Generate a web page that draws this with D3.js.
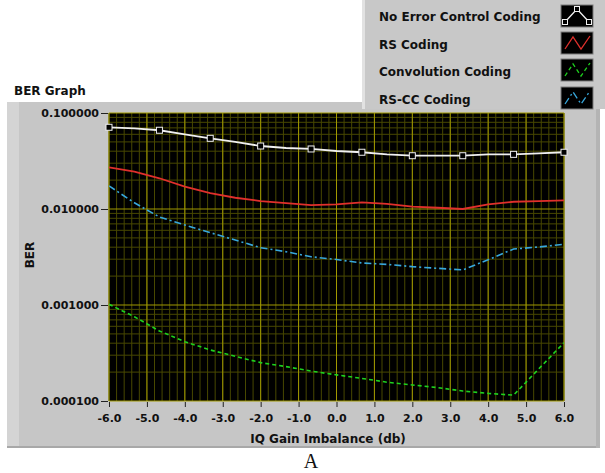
<!DOCTYPE html>
<html>
<head>
<meta charset="utf-8">
<script src="https://cdn.jsdelivr.net/npm/d3@7"></script>
<style>
  body { margin: 0; background: #fff; }
  text { font-family: "DejaVu Sans", Verdana, sans-serif; font-weight: bold; fill: #111; }
</style>
</head>
<body>
<div id="chart"></div>
<script>
// IQ gain imbalance (db)
var gain = [-6, -5.33, -4.67, -4, -3.33, -2.67, -2, -1.33, -0.67, 0, 0.67, 1.33, 2, 2.67, 3.33, 4, 4.67, 5.33, 6];
// BER per coding scheme
var noCoding = [0.0710, 0.0690, 0.0661, 0.0600, 0.0545, 0.0499, 0.0453, 0.0432, 0.0422, 0.0402, 0.0390, 0.0371, 0.0359, 0.0359, 0.0359, 0.0371, 0.0371, 0.0380, 0.0390];
var rsCoding = [0.0272, 0.0245, 0.0209, 0.0171, 0.0146, 0.0131, 0.0121, 0.0115, 0.0110, 0.0112, 0.0117, 0.0113, 0.0106, 0.0103, 0.0100, 0.0112, 0.0119, 0.0121, 0.0123];
var convCoding = [0.001016, 0.000755, 0.000536, 0.000415, 0.000340, 0.000292, 0.000251, 0.000228, 0.000205, 0.000187, 0.000172, 0.000157, 0.000147, 0.000138, 0.000127, 0.000120, 0.000115, 0.000215, 0.000405];
var rsccCoding = [0.0174, 0.0116, 0.00825, 0.00681, 0.00567, 0.00475, 0.00395, 0.00359, 0.00318, 0.00298, 0.00274, 0.00265, 0.00251, 0.00241, 0.00232, 0.00296, 0.00383, 0.00402, 0.00429];
// x positions where the white plot draws its square markers
var markerGain = [-6, -4.67, -3.33, -2, -0.67, 0.67, 2, 3.33, 4.67, 6];

var xTicks = [-6, -5, -4, -3, -2, -1, 0, 1, 2, 3, 4, 5, 6];
var yTicks = [0.0001, 0.001, 0.01, 0.1];

var series = [
  {name: "No Error Control Coding", values: noCoding, color: "#f0f0f0", dash: null, w: 1.8},
  {name: "RS Coding", values: rsCoding, color: "#e0302c", dash: null, w: 1.8},
  {name: "Convolution Coding", values: convCoding, color: "#1ed21e", dash: "4,3", w: 1.6},
  {name: "RS-CC Coding", values: rsccCoding, color: "#38a8dc", dash: "7,3,2,3", w: 1.6}
];

var W = 605, H = 473;
var plot = {left: 109, top: 113, right: 564, bottom: 401};

var svg = d3.select("#chart").append("svg")
  .attr("width", W).attr("height", H);

svg.append("rect").attr("width", W).attr("height", H).attr("fill", "#fff");

// panel
svg.append("rect").attr("x", 7).attr("y", 102).attr("width", 593).attr("height", 346).attr("fill", "#c6c6c6");
svg.append("rect").attr("x", 7).attr("y", 102).attr("width", 12).attr("height", 346).attr("fill", "#d4d4d4");
svg.append("rect").attr("x", 7).attr("y", 446).attr("width", 593).attr("height", 2).attr("fill", "#a8a8a8");
svg.append("rect").attr("x", 596).attr("y", 102).attr("width", 4).attr("height", 346).attr("fill", "#b4b4b4");

// legend box
svg.append("rect").attr("x", 362).attr("y", 0).attr("width", 243).attr("height", 109).attr("fill", "#c8c8c8");
svg.append("rect").attr("x", 362).attr("y", 0).attr("width", 3).attr("height", 109).attr("fill", "#e2e2e2");

svg.append("text").attr("x", 14).attr("y", 95).attr("font-size", 12).text("BER Graph");

var x = d3.scaleLinear().domain([-6, 6]).range([plot.left, plot.right]);
var y = d3.scaleLog().domain([0.0001, 0.1]).range([plot.bottom, plot.top]);

var g = svg.append("g");
g.append("rect").attr("x", plot.left).attr("y", plot.top)
  .attr("width", plot.right - plot.left).attr("height", plot.bottom - plot.top).attr("fill", "#000");

// minor grid
var xMinor = d3.range(-6, 6.001, 0.2).map(function(d) { return +d.toFixed(1); });
var yMinor = [];
yTicks.slice(0, 3).forEach(function(dec) {
  for (var k = 2; k <= 9; k++) yMinor.push(dec * k);
});

g.selectAll(".vminor").data(xMinor).enter().append("line")
  .attr("x1", x).attr("x2", x).attr("y1", plot.top).attr("y2", plot.bottom)
  .attr("stroke", "#484800").attr("stroke-width", 1);
g.selectAll(".hminor").data(yMinor).enter().append("line")
  .attr("y1", y).attr("y2", y).attr("x1", plot.left).attr("x2", plot.right)
  .attr("stroke", "#484800").attr("stroke-width", 1);
g.selectAll(".vmajor").data(xTicks).enter().append("line")
  .attr("x1", x).attr("x2", x).attr("y1", plot.top).attr("y2", plot.bottom)
  .attr("stroke", "#a09800").attr("stroke-width", 1);
g.selectAll(".hmajor").data(yTicks).enter().append("line")
  .attr("y1", y).attr("y2", y).attr("x1", plot.left).attr("x2", plot.right)
  .attr("stroke", "#a09800").attr("stroke-width", 1);

// curves
var line = d3.line()
  .x(function(d) { return x(d[0]); })
  .y(function(d) { return y(d[1]); });

svg.append("clipPath").attr("id", "clip").append("rect")
  .attr("x", plot.left).attr("y", plot.top)
  .attr("width", plot.right - plot.left).attr("height", plot.bottom - plot.top);

series.forEach(function(s) {
  g.append("path")
    .datum(gain.map(function(v, i) { return [v, s.values[i]]; }))
    .attr("clip-path", "url(#clip)")
    .attr("fill", "none")
    .attr("stroke", s.color)
    .attr("stroke-width", s.w)
    .attr("stroke-dasharray", s.dash)
    .attr("d", line);
});

g.selectAll(".marker").data(markerGain).enter().append("rect")
  .attr("x", function(d) { return x(d) - 3; })
  .attr("y", function(d) { return y(noCoding[gain.indexOf(d)]) - 3; })
  .attr("width", 6).attr("height", 6)
  .attr("fill", "#000").attr("stroke", "#f0f0f0").attr("stroke-width", 1);

// axes
var xAxis = d3.axisBottom(x).tickValues(xTicks).tickSize(5).tickPadding(7)
  .tickFormat(function(d) { return d.toFixed(1); });
var yAxis = d3.axisLeft(y).tickValues(yTicks).tickSize(7).tickPadding(2)
  .tickFormat(function(d) { return d.toFixed(6); });

var gx = svg.append("g").attr("transform", "translate(0," + (plot.bottom + 1) + ")").call(xAxis);
var gy = svg.append("g").attr("transform", "translate(" + (plot.left - 1) + ",0)").call(yAxis);
[gx, gy].forEach(function(a) {
  a.select(".domain").remove();
  a.selectAll("line").attr("stroke", "#222");
  a.selectAll("text").attr("font-size", 11).attr("fill", "#111")
    .attr("font-family", "DejaVu Sans, Verdana, sans-serif").attr("font-weight", "bold");
});

svg.append("text").attr("x", 328).attr("y", 443).attr("text-anchor", "middle")
  .attr("font-size", 12).text("IQ Gain Imbalance (db)");
svg.append("text").attr("transform", "translate(34,255) rotate(-90)").attr("text-anchor", "middle")
  .attr("font-size", 12).text("BER");

svg.append("text").attr("x", 311).attr("y", 468).attr("text-anchor", "middle")
  .style("font-family", "Liberation Serif, Times New Roman, serif").style("font-weight", "normal")
  .attr("font-size", 20).text("A");

// legend
var lg = svg.append("g");
var rowTop = [5, 32, 59, 87];
var rowBase = [20.5, 48.5, 76, 103.5];
series.forEach(function(s, i) {
  var ty = rowTop[i];
  lg.append("text").attr("x", 379).attr("y", rowBase[i]).attr("font-size", 12).text(s.name);
  lg.append("rect").attr("x", 561).attr("y", ty).attr("width", 32).attr("height", 22)
    .attr("fill", "#000").attr("stroke", "#7a7a7a").attr("stroke-width", 1);
  var pts = [[565, ty + 17], [577, ty + 4], [589, ty + 17]];
  if (i > 0) pts = [[565, ty + 17], [573, ty + 5], [581, ty + 17], [590, ty + 4]];
  lg.append("path").attr("d", d3.line()(pts)).attr("fill", "none")
    .attr("stroke", s.color).attr("stroke-width", 1.3).attr("stroke-dasharray", s.dash);
  if (i === 0) {
    lg.selectAll(".lm").data(pts).enter().append("rect")
      .attr("x", function(p) { return p[0] - 2.5; }).attr("y", function(p) { return p[1] - 2.5; })
      .attr("width", 5).attr("height", 5).attr("fill", "#000").attr("stroke", "#f0f0f0");
  }
});
</script>
</body>
</html>
